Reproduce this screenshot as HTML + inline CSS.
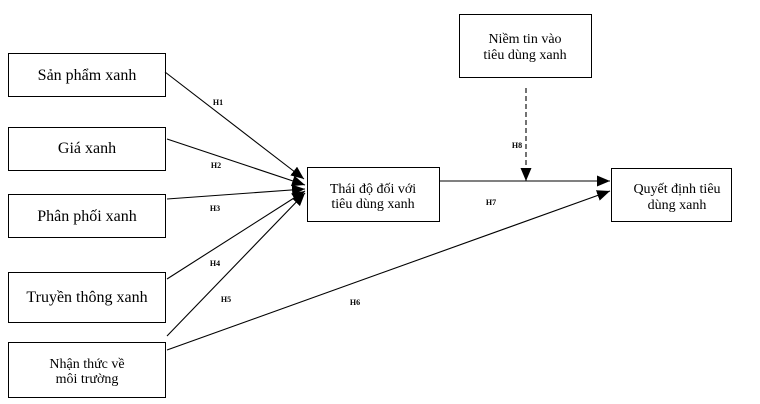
<!DOCTYPE html>
<html>
<head>
<meta charset="utf-8">
<style>
  html, body { margin: 0; padding: 0; background: #fff; }
  body { width: 760px; height: 404px; overflow: hidden; }
  svg { display: block; }
  .box { fill: #fff; stroke: #000; stroke-width: 1; }
  .t16 { font-family: "Liberation Serif", "DejaVu Serif", serif; font-size: 16px; fill: #000; }
  .t14 { font-family: "Liberation Serif", "DejaVu Serif", serif; font-size: 14px; fill: #000; }
  .lbl { font-family: "Liberation Serif", "DejaVu Serif", serif; font-size: 8px; font-weight: bold; fill: #000; }
  .ln { stroke: #000; stroke-width: 1.1; fill: none; }
</style>
</head>
<body>
<svg width="760" height="404" viewBox="0 0 760 404" xmlns="http://www.w3.org/2000/svg">
  <defs>
    <marker id="ah" markerUnits="userSpaceOnUse" markerWidth="14" markerHeight="12" refX="13" refY="5.5" orient="auto">
      <path d="M0,0 L13,5.5 L0,11 z" fill="#000"/>
    </marker>
  </defs>

  <!-- Left boxes -->
  <rect class="box" x="8.5" y="53.5" width="157" height="43"/>
  <text class="t16" x="87" y="80" text-anchor="middle">Sản phẩm xanh</text>

  <rect class="box" x="8.5" y="127.5" width="157" height="43"/>
  <text class="t16" x="87" y="153" text-anchor="middle">Giá xanh</text>

  <rect class="box" x="8.5" y="194.5" width="157" height="43"/>
  <text class="t16" x="87" y="221" text-anchor="middle">Phân phối xanh</text>

  <rect class="box" x="8.5" y="272.5" width="157" height="50"/>
  <text class="t16" x="87" y="302" text-anchor="middle">Truyền thông xanh</text>

  <rect class="box" x="8.5" y="342.5" width="157" height="55"/>
  <text class="t14" x="87" y="368" text-anchor="middle">Nhận thức về</text>
  <text class="t14" x="87" y="383" text-anchor="middle">môi trường</text>

  <!-- Center box -->
  <rect class="box" x="307.5" y="167.5" width="132" height="54"/>
  <text class="t14" x="373" y="193" text-anchor="middle">Thái độ đối với</text>
  <text class="t14" x="373" y="208" text-anchor="middle">tiêu dùng xanh</text>

  <!-- Top box -->
  <rect class="box" x="459.5" y="14.5" width="132" height="63"/>
  <text class="t14" x="525" y="43" text-anchor="middle">Niềm tin vào</text>
  <text class="t14" x="525" y="59" text-anchor="middle">tiêu dùng xanh</text>

  <!-- Right box -->
  <rect class="box" x="611.5" y="168.5" width="120" height="53"/>
  <text class="t14" x="677" y="193" text-anchor="middle">Quyết định tiêu</text>
  <text class="t14" x="677" y="209" text-anchor="middle">dùng xanh</text>

  <!-- Connectors -->
  <line class="ln" x1="165" y1="72" x2="304" y2="179" marker-end="url(#ah)"/>
  <line class="ln" x1="167" y1="139" x2="305" y2="185" marker-end="url(#ah)"/>
  <line class="ln" x1="167" y1="199" x2="305" y2="189" marker-end="url(#ah)"/>
  <line class="ln" x1="167" y1="279" x2="305" y2="191" marker-end="url(#ah)"/>
  <line class="ln" x1="167" y1="336" x2="305" y2="193" marker-end="url(#ah)"/>
  <line class="ln" x1="167" y1="350" x2="610" y2="191" marker-end="url(#ah)"/>
  <line class="ln" x1="439" y1="181" x2="610" y2="181" marker-end="url(#ah)"/>
  <line class="ln" x1="526" y1="88" x2="526" y2="181" stroke-dasharray="5,3" marker-end="url(#ah)"/>

  <!-- Labels -->
  <text class="lbl" x="218" y="105" text-anchor="middle">H1</text>
  <text class="lbl" x="216" y="168" text-anchor="middle">H2</text>
  <text class="lbl" x="215" y="211" text-anchor="middle">H3</text>
  <text class="lbl" x="215" y="266" text-anchor="middle">H4</text>
  <text class="lbl" x="226" y="302" text-anchor="middle">H5</text>
  <text class="lbl" x="355" y="305" text-anchor="middle">H6</text>
  <text class="lbl" x="491" y="205" text-anchor="middle">H7</text>
  <text class="lbl" x="517" y="148" text-anchor="middle">H8</text>
</svg>
</body>
</html>
